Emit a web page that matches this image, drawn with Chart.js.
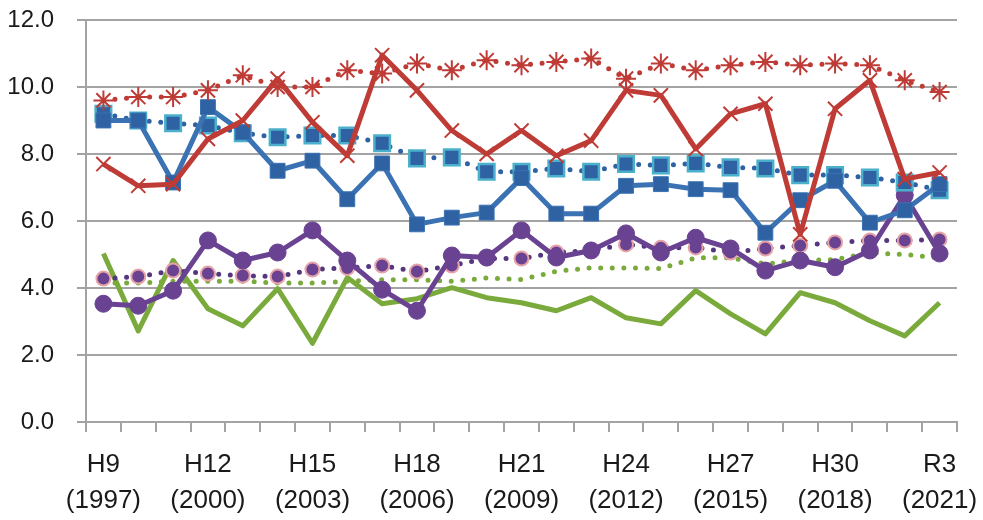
<!DOCTYPE html>
<html>
<head>
<meta charset="utf-8">
<script src="https://cdn.jsdelivr.net/npm/chart.js@4.4.0/dist/chart.umd.min.js"></script>
<style>
html,body{margin:0;padding:0;background:#fff;}
#wrap{width:983px;height:520px;position:relative;}
</style>
</head>
<body>
<div id="wrap"><canvas id="c"></canvas></div>
<script>
const eras = ['H9','H10','H11','H12','H13','H14','H15','H16','H17','H18','H19','H20','H21','H22','H23','H24','H25','H26','H27','H28','H29','H30','R1','R2','R3'];
const years = [1997,1998,1999,2000,2001,2002,2003,2004,2005,2006,2007,2008,2009,2010,2011,2012,2013,2014,2015,2016,2017,2018,2019,2020,2021];
const yTicks = [0,2,4,6,8,10,12];

const redSolid   = [7.7,7.05,7.1,8.45,9.0,10.25,8.95,7.95,10.95,9.9,8.7,8.0,8.7,7.95,8.4,9.9,9.75,8.15,9.2,9.5,5.6,9.35,10.2,7.25,7.45];
const redDotted  = [9.6,9.7,9.7,9.9,10.35,10.0,10.0,10.5,10.4,10.7,10.5,10.8,10.65,10.75,10.85,10.25,10.7,10.5,10.65,10.75,10.65,10.7,10.65,10.2,9.85];
const blueSolid  = [9.0,9.0,7.15,9.4,8.65,7.5,7.8,6.65,7.72,5.9,6.1,6.25,7.28,6.22,6.22,7.05,7.1,6.95,6.92,5.65,6.62,7.2,5.95,6.32,7.1];
const blueDotted = [9.2,9.0,8.92,8.85,8.62,8.5,8.55,8.55,8.32,7.87,7.9,7.47,7.47,7.57,7.47,7.7,7.66,7.72,7.6,7.57,7.37,7.37,7.3,7.15,6.92];
const purpleSolid  = [3.53,3.47,3.92,5.42,4.82,5.06,5.72,4.82,3.95,3.32,4.97,4.91,5.72,4.91,5.12,5.63,5.06,5.5,5.18,4.52,4.82,4.62,5.12,6.77,5.03];
const purpleDotted = [4.28,4.34,4.52,4.43,4.37,4.34,4.55,4.6,4.67,4.49,4.67,4.88,4.88,5.06,5.12,5.3,5.2,5.21,5.06,5.18,5.27,5.36,5.42,5.42,5.45];
const greenSolid  = [5.03,2.72,4.82,3.38,2.87,3.98,2.35,4.31,3.53,3.68,4.01,3.71,3.56,3.32,3.71,3.11,2.93,3.92,3.23,2.63,3.86,3.56,3.02,2.57,3.56];
const greenDotted = [4.15,4.15,4.2,4.2,4.2,4.15,4.15,4.2,4.25,4.25,4.2,4.3,4.25,4.5,4.6,4.6,4.58,4.9,4.9,4.72,4.82,4.85,5.05,5.0,4.9];

const RED = '#BE3B36', BLUE = '#3A72B3', BLUEDARK = '#2F62A2', CYAN = '#4BB0CB',
      PURPLE = '#6A4292', PURPLEDOT = '#55377F', PINK = '#E6A3A8', GREEN = '#7BAA3C';
const GRID = '#A3A3A3';
const FONT = "'Liberation Sans', Arial, sans-serif";

function solid(data, color, extra) {
  return Object.assign({data, borderColor: color, backgroundColor: color, borderWidth: 5,
    pointRadius: 0, tension: 0, fill: false, borderJoinStyle: 'round'}, extra || {});
}
function dotted(data, color, extra) {
  return Object.assign({data, borderColor: color, backgroundColor: color, borderWidth: 5,
    borderDash: [0, 11.6], borderCapStyle: 'round', pointRadius: 0, tension: 0, fill: false}, extra || {});
}

new Chart(document.getElementById('c'), {
  type: 'line',
  data: {
    labels: eras,
    datasets: [
      solid(redSolid, RED, {pointStyle: 'crossRot', pointRadius: 10, pointBorderWidth: 2, pointBorderColor: RED}),
      dotted(redDotted, RED, {pointStyle: 'star', pointRadius: 10, pointBorderWidth: 2, pointBorderColor: RED}),
      solid(blueSolid, BLUE, {pointStyle: 'rect', pointRadius: 10.5, pointBackgroundColor: BLUEDARK, pointBorderColor: BLUE, pointBorderWidth: 1}),
      dotted(blueDotted, BLUEDARK, {pointStyle: 'rect', pointRadius: 11, pointBackgroundColor: BLUEDARK, pointBorderColor: CYAN, pointBorderWidth: 2.5}),
      solid(purpleSolid, PURPLE, {pointStyle: 'circle', pointRadius: 8.5, pointBackgroundColor: PURPLE, pointBorderColor: PURPLE, pointBorderWidth: 1}),
      dotted(purpleDotted, PURPLEDOT, {pointStyle: 'circle', pointRadius: 7, pointBackgroundColor: PURPLE, pointBorderColor: PINK, pointBorderWidth: 2}),
      solid(greenSolid, GREEN),
      dotted(greenDotted, GREEN)
    ]
  },
  options: {
    responsive: true,
    maintainAspectRatio: false,
    animation: false,
    devicePixelRatio: 1,
    layout: {padding: {top: 20, right: 26, bottom: 0, left: 0}},
    plugins: {legend: {display: false}, tooltip: {enabled: false}},
    scales: {
      x: {
        type: 'category',
        offset: true,
        grid: {offset: true, drawOnChartArea: false, drawTicks: true, tickLength: 10, color: GRID, lineWidth: 2},
        border: {color: GRID, width: 2},
        ticks: {
          autoSkip: false, maxRotation: 0, minRotation: 0, padding: 15,
          color: '#1a1a1a',
          font: {family: FONT, size: 26, lineHeight: 1.385},
          callback: function(v, i) { return i % 3 === 0 ? [eras[i], '(' + years[i] + ')'] : ''; }
        },
        afterFit: function(s) { s.height = 98; s.paddingLeft = 0; s.paddingRight = 0; }
      },
      y: {
        min: yTicks[0], max: yTicks[yTicks.length - 1],
        afterBuildTicks: function(s) { s.ticks = yTicks.map(v => ({value: v})); },
        grid: {color: GRID, lineWidth: 2, drawTicks: true, tickLength: 9},
        border: {color: GRID, width: 2},
        ticks: {
          padding: 23, color: '#1a1a1a',
          font: {family: FONT, size: 24},
          callback: function(v) { return Number(v).toFixed(1); }
        },
        afterFit: function(s) { s.width = 86; s.paddingTop = 0; s.paddingBottom = 0; }
      }
    }
  }
});
</script>
</body>
</html>
